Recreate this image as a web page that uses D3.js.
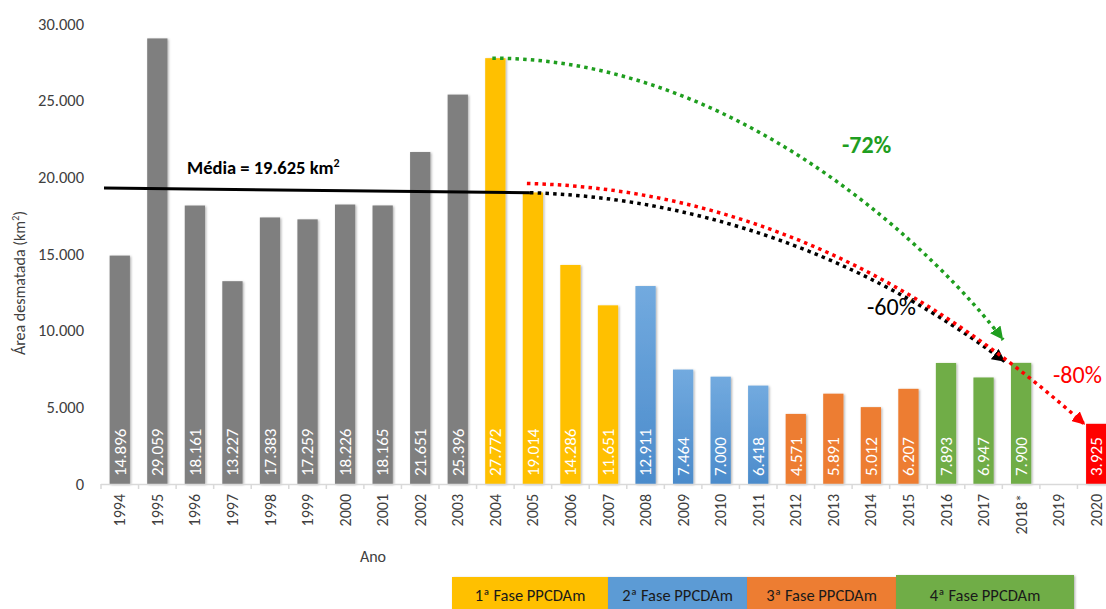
<!DOCTYPE html>
<html>
<head>
<meta charset="utf-8">
<script src="https://cdn.jsdelivr.net/npm/d3@7"></script>
<style>
  body { margin: 0; background: white; }
  svg { display: block; font-family: Carlito, "Liberation Sans", Arial, sans-serif; }
</style>
</head>
<body>
<svg id="chart" width="1106" height="609"></svg>
<script>
// data
var years = ["1994","1995","1996","1997","1998","1999","2000","2001","2002","2003",
  "2004","2005","2006","2007","2008","2009","2010","2011","2012","2013","2014",
  "2015","2016","2017","2018*","2019","2020"];
var values = [14896,29059,18161,13227,17383,17259,18226,18165,21651,25396,
  27772,19014,14286,11651,12911,7464,7000,6418,4571,5891,5012,
  6207,7893,6947,7900,null,3925];
var phases = ["pre","pre","pre","pre","pre","pre","pre","pre","pre","pre",
  "f1","f1","f1","f1","f2","f2","f2","f2","f3","f3","f3",
  "f3","f4","f4","f4","none","goal"];
var yTicks = [0,5000,10000,15000,20000,25000,30000];
var phaseLabels = ["1ª Fase PPCDAm","2ª Fase PPCDAm","3ª Fase PPCDAm","4ª Fase PPCDAm"];
var phaseKeys = ["f1","f2","f3","f4"];
var mediaValue = 19625;

var colors = {pre:"#7f7f7f", f1:"#ffc000", f2:"url(#blueGrad)", f3:"#ed7d31", f4:"#70ad47", goal:"#ff0000"};
var legendColors = {f1:"#ffc000", f2:"#5b9bd5", f3:"#ed7d31", f4:"#70ad47"};

var locale = d3.formatLocale({decimal: ",", thousands: ".", grouping: [3], currency: ["R$",""]});
var fmt = locale.format(",d");

var svg = d3.select("#chart");
var defs = svg.append("defs");

var grad = defs.append("linearGradient").attr("id","blueGrad")
  .attr("x1",0).attr("y1",0).attr("x2",0).attr("y2",1);
grad.append("stop").attr("offset","0%").attr("stop-color","#72aadf");
grad.append("stop").attr("offset","100%").attr("stop-color","#4b8bcb");

var shadow = defs.append("filter").attr("id","shadow")
  .attr("x","-20%").attr("y","-5%").attr("width","150%").attr("height","115%");
shadow.append("feDropShadow").attr("dx",1.2).attr("dy",0.8)
  .attr("stdDeviation",1).attr("flood-color","#000").attr("flood-opacity",0.3);

var x = d3.scaleBand().domain(years).range([101, 1115])
  .paddingInner(0.46).paddingOuter(0.23);
var y = d3.scaleLinear().domain([0, 30000]).range([484, 24]);

var rows = years.map(function(d, i) { return {year: d, value: values[i], phase: phases[i]}; });

// y tick labels (no axis line)
svg.append("g").selectAll("text").data(yTicks).enter().append("text")
  .attr("x", 84).attr("y", function(d) { return y(d); })
  .attr("dy", "0.35em")
  .attr("text-anchor", "end")
  .attr("fill", "#404040")
  .style("font-size", "16.5px")
  .text(function(d) { return fmt(d); });

// y axis title
svg.append("text")
  .attr("transform", "translate(25,283) rotate(-90)")
  .attr("text-anchor", "middle")
  .attr("fill", "#404040")
  .style("font-size", "16px")
  .html("Área desmatada (km<tspan baseline-shift='super' font-size='10px'>2</tspan>)");

// bars
svg.append("g").selectAll("rect").data(rows.filter(function(d) { return d.value != null; }))
  .enter().append("rect")
  .attr("x", function(d) { return x(d.year); })
  .attr("y", function(d) { return y(d.value); })
  .attr("width", x.bandwidth())
  .attr("height", function(d) { return y(0) - y(d.value); })
  .attr("fill", function(d) { return colors[d.phase]; })
  .attr("filter", "url(#shadow)");

// x axis line + ticks at band boundaries
var xAxis = svg.append("g");
xAxis.append("line")
  .attr("x1", x.range()[0]).attr("x2", x.range()[1])
  .attr("y1", y(0) + 0.5).attr("y2", y(0) + 0.5)
  .attr("stroke", "#d9d9d9").attr("stroke-width", 1.5);
var bounds = years.map(function(d) { return x(d) + x.bandwidth() / 2 - x.step() / 2; });
xAxis.selectAll(".tick").data(bounds).enter().append("line")
  .attr("x1", function(d) { return d; }).attr("x2", function(d) { return d; })
  .attr("y1", y(0)).attr("y2", y(0) + 5)
  .attr("stroke", "#d9d9d9").attr("stroke-width", 1.5);

// year labels
xAxis.selectAll(".yr").data(years).enter().append("text")
  .attr("transform", function(d) { return "translate(" + (x(d) + x.bandwidth() / 2) + ",494) rotate(-90)"; })
  .attr("dy", "0.35em")
  .attr("text-anchor", "end")
  .attr("fill", "#404040")
  .style("font-size", "16px")
  .text(function(d) { return d; });

svg.append("text")
  .attr("x", 373).attr("y", 562)
  .attr("text-anchor", "middle")
  .attr("fill", "#404040")
  .style("font-size", "16px")
  .text("Ano");

// value labels inside bars
svg.append("g").selectAll("text").data(rows.filter(function(d) { return d.value != null; }))
  .enter().append("text")
  .attr("transform", function(d) { return "translate(" + (x(d.year) + x.bandwidth() / 2) + "," + (y(0) - 8) + ") rotate(-90)"; })
  .attr("dy", "0.34em")
  .attr("fill", "white")
  .style("font-size", "17px")
  .text(function(d) { return fmt(d.value); });

// média line
svg.append("line")
  .attr("x1", x.range()[0] + 3).attr("y1", y(19300))
  .attr("x2", x("2005") + x.bandwidth() / 2 - 3).attr("y2", y(19000))
  .attr("stroke", "black").attr("stroke-width", 3);

svg.append("text")
  .attr("x", 187).attr("y", 174)
  .attr("font-weight", "bold")
  .attr("fill", "#000")
  .style("font-size", "18.5px")
  .html("Média = " + fmt(mediaValue) + " km<tspan baseline-shift='super' font-size='12px'>2</tspan>");

// dotted arrows
var arrows = [
  {color: "#000000", from: ["2005", 19000, -3, 0], to: ["2018*", 7900, -16, -1], c1: [230, 7], c2: [-80, -60]},
  {color: "#ff0000", from: ["2005", 19600, -6, 0], to: ["2020", 3925, -11, 1], c1: [243, 6], c2: [-135, -120]},
  {color: "#1f9e1f", from: ["2004", 27772, -3, 0], to: ["2018*", 7900, -18, -23], c1: [250, 0], c2: [-60, -80]}
];

arrows.forEach(function(a, i) {
  defs.append("marker").attr("id", "head" + i)
    .attr("markerUnits", "userSpaceOnUse")
    .attr("viewBox", "0 0 12 12")
    .attr("refX", 12).attr("refY", 6)
    .attr("markerWidth", 13).attr("markerHeight", 13)
    .attr("orient", "auto")
    .append("path").attr("d", "M0,0 L12,6 L0,12 Z").attr("fill", a.color);

  var sx = x(a.from[0]) + x.bandwidth() / 2 + a.from[2], sy = y(a.from[1]) + a.from[3];
  var ex = x(a.to[0]) + x.bandwidth() / 2 + a.to[2], ey = y(a.to[1]) + a.to[3];
  var p = d3.path();
  p.moveTo(sx, sy);
  p.bezierCurveTo(sx + a.c1[0], sy + a.c1[1], ex + a.c2[0], ey + a.c2[1], ex, ey);
  svg.append("path")
    .attr("d", p.toString())
    .attr("fill", "none")
    .attr("stroke", a.color)
    .attr("stroke-width", 3.5)
    .attr("stroke-dasharray", "3.5 4.2")
    .attr("marker-end", "url(#head" + i + ")");
});

// percentage labels
svg.append("text").attr("x", 842).attr("y", 153)
  .attr("fill", "#1f9e1f").attr("font-weight", "bold").style("font-size", "24px").text("-72%");
svg.append("text").attr("x", 867).attr("y", 315)
  .attr("fill", "#000").style("font-size", "24px").text("-60%");
svg.append("text").attr("x", 1053).attr("y", 383)
  .attr("fill", "#ff0000").style("font-size", "24px").text("-80%");

// phase legend at the bottom
var legendEdges = [452, 608, 747, 896, 1074];
var legend = svg.append("g");
phaseKeys.forEach(function(k, i) {
  legend.append("rect")
    .attr("x", legendEdges[i]).attr("y", i == 3 ? 575 : 577)
    .attr("width", legendEdges[i + 1] - legendEdges[i])
    .attr("height", 40)
    .attr("fill", legendColors[k])
    .attr("filter", "url(#shadow)");
  legend.append("text")
    .attr("x", (legendEdges[i] + legendEdges[i + 1]) / 2)
    .attr("y", 595)
    .attr("dy", "0.35em")
    .attr("text-anchor", "middle")
    .attr("fill", "#1a1a1a")
    .style("font-size", "16.5px")
    .text(phaseLabels[i]);
});
</script>
</body>
</html>
